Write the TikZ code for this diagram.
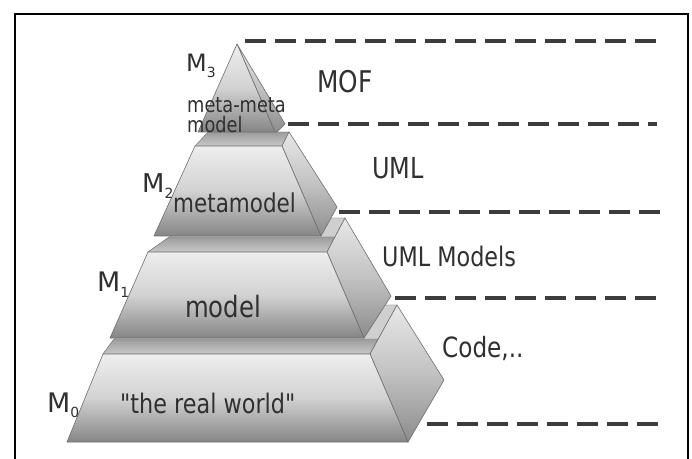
\documentclass[tikz,border=0pt]{standalone}
\usepackage{fontspec}
\setmainfont[FakeStretch=0.83]{DejaVu Sans}
% label fonts without TeX quote ligatures, so " stays a straight quote
\newfontfamily\lblfont[FakeStretch=0.83]{DejaVu Sans}
\newfontfamily\levelfont{DejaVu Sans}
\definecolor{txtgray}{HTML}{303030}
\definecolor{edgegray}{HTML}{6E6E6E}
\definecolor{dashgray}{HTML}{3C3C3C}
\definecolor{frontTop}{HTML}{EEEEEE}
\definecolor{frontMid}{HTML}{D2D2D2}
\definecolor{frontBot}{HTML}{858585}
\definecolor{sideTop}{HTML}{E8E8E8}
\definecolor{sideMid}{HTML}{C2C2C2}
\definecolor{sideBot}{HTML}{8C8C8C}
\definecolor{topFill}{HTML}{CFCFCF}
\definecolor{stripTop}{HTML}{9C9C9C}
\definecolor{stripBot}{HTML}{C8C8C8}
\begin{document}
\begin{tikzpicture}[x=1bp,y=-1bp,
  frontface/.style={draw=edgegray,line width=0.6bp,top color=frontTop,bottom color=frontBot,middle color=frontMid},
  sideface/.style={draw=edgegray,line width=0.6bp,top color=sideTop,bottom color=sideBot,middle color=sideMid},
  topface/.style={draw=edgegray,line width=0.4bp,fill=topFill},
  stripface/.style={draw=edgegray,line width=0.4bp,top color=stripTop,bottom color=stripBot},
  label/.style={inner sep=0pt,anchor=base west,text=txtgray,font=\lblfont},
  levellabel/.style={inner sep=0pt,anchor=base west,text=txtgray,font=\levelfont},
  layerline/.style={draw=dashgray,line width=3.5bp,dash pattern=on 21bp off 9bp},
  frame/.style={draw=black,line width=1.6bp}]

\useasboundingbox (0,0) rectangle (692,459);

% open frame (top, left and right sides)
\draw[frame] (15,459) -- (15,14) -- (688,14) -- (688,459);

% ---- level M0 ----
\path[topface]   (103,354) -- (370,354) -- (397,305) -- (141,305) -- cycle;
\path[stripface] (103,354) -- (370,354) -- (378,339) -- (114,339) -- cycle;
\path[sideface]  (370,354) -- (397,305) -- (444,380) -- (408,442) -- cycle;
\path[frontface] (103,354) -- (370,354) -- (408,442) -- (67,442) -- cycle;

% ---- level M1 ----
\path[topface]   (148,252) -- (327,252) -- (345,218) -- (197,218) -- cycle;
\path[stripface] (148,252) -- (327,252) -- (335,237) -- (169,237) -- cycle;
\path[sideface]  (327,252) -- (345,218) -- (391,296) -- (364,338) -- cycle;
\path[frontface] (148,252) -- (327,252) -- (364,338) -- (110,338) -- cycle;

% ---- level M2 ----
\path[stripface] (195,146) -- (282,146) -- (289,132) -- (208,132) -- cycle;
\path[sideface]  (282,146) -- (289,132) -- (337,207) -- (321,236) -- cycle;
\path[frontface] (195,146) -- (282,146) -- (321,236) -- (154,236) -- cycle;

% ---- level M3 (apex) ----
\path[sideface]  (237,44) -- (285,124) -- (277,132) -- (275,132) -- cycle;
\path[frontface] (237,44) -- (275,132) -- (198,132) -- cycle;

% level names
\node[levellabel] (m3) at (186,72)  {\fontsize{24}{24}\selectfont M\raisebox{-6bp}{\fontsize{14}{14}\selectfont 3}};
\node[levellabel] (m2) at (142,193) {\fontsize{26}{26}\selectfont M\raisebox{-6bp}{\fontsize{14}{14}\selectfont 2}};
\node[levellabel] (m1) at (97,292)  {\fontsize{27}{27}\selectfont M\raisebox{-6bp}{\fontsize{14}{14}\selectfont 1}};
\node[levellabel] (m0) at (47,412)  {\fontsize{27}{27}\selectfont M\raisebox{-5bp}{\fontsize{14}{14}\selectfont 0}};

% texts on the faces
\node[label] (mmmA) at (187,113) {\fontsize{21.5}{21.5}\selectfont meta-meta};
\node[label] (mmmB) at (187,133) {\fontsize{21.5}{21.5}\selectfont model};
\node[label] (metamodel) at (173,213) {\fontsize{26}{26}\selectfont metamodel};
\node[label] (model) at (185,318) {\fontsize{29.5}{29.5}\selectfont model};
\node[label] (realworld) at (120,413) {\fontsize{27}{27}\selectfont "the real world"};

% layer names
\node[label] (mof) at (317,93)  {\fontsize{30}{30}\selectfont MOF};
\node[label] (uml) at (372,179) {\fontsize{29}{29}\selectfont UML};
\node[label] (umlmodels) at (382,267) {\fontsize{27}{27}\selectfont UML Models};
\node[label] (code) at (442,357) {\fontsize{28}{28}\selectfont Code,..};

% dashed layer boundaries
\coordinate (d1s) at (245,41);  \coordinate (d1e) at (662,41);
\coordinate (d2s) at (288,124); \coordinate (d2e) at (657,124);
\coordinate (d3s) at (339,212); \coordinate (d3e) at (662,212);
\coordinate (d4s) at (395,298); \coordinate (d4e) at (662,298);
\coordinate (d5s) at (427,424); \coordinate (d5e) at (660,424);
\draw[layerline] (d1s) -- (d1e);
\draw[layerline] (d2s) -- (d2e);
\draw[layerline] (d3s) -- (d3e);
\draw[layerline] (d4s) -- (d4e);
\draw[layerline] (d5s) -- (d5e);
\end{tikzpicture}
\end{document}
